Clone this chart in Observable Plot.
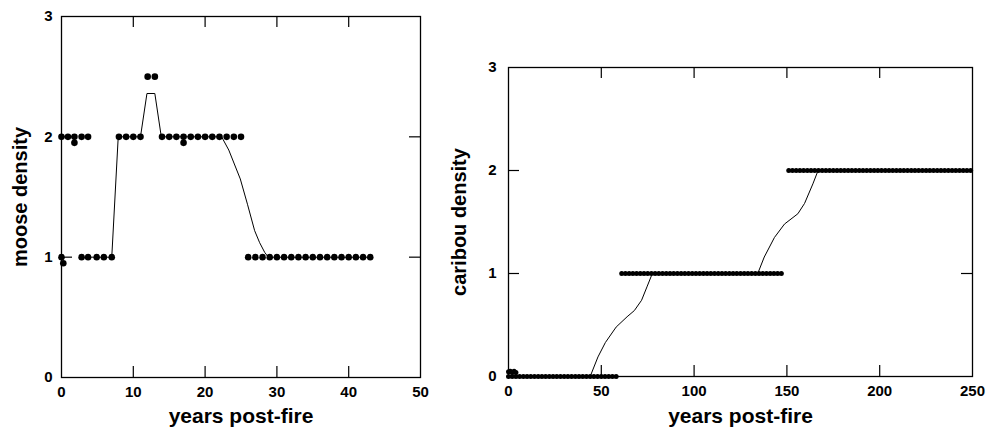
<!DOCTYPE html>
<html>
<head>
<meta charset="utf-8">
<script src="https://cdn.jsdelivr.net/npm/d3@7"></script>
<script src="https://cdn.jsdelivr.net/npm/@observablehq/plot@0.6"></script>
<style>
  html, body { margin: 0; padding: 0; background: #fff; }
  #wrap { position: relative; width: 988px; height: 430px; overflow: hidden; background: #fff; }
  #left { position: absolute; left: 0; top: 0; }
  #right { position: absolute; left: 440px; top: 0; }
  svg { overflow: visible; }
</style>
</head>
<body>
<div id="wrap"><div id="left"></div><div id="right"></div></div>
<script>
// ---------- Moose panel data ----------
const mooseYears   = [0, 0.9, 1.8, 1.8, 2.8, 3.7,  0, 0.25,  2.8, 3.7, 4.9, 5.9, 7,  8, 9, 10, 11,  12, 13,
                      14, 15, 16, 17, 17, 18, 19, 20, 21, 22, 23, 24, 25,
                      26, 27, 28, 29, 30, 31, 32, 33, 34, 35, 36, 37, 38, 39, 40, 41, 42, 43];
const mooseDensity = [2, 2, 2, 1.95, 2, 2,  1, 0.95,  1, 1, 1, 1, 1,  2, 2, 2, 2,  2.5, 2.5,
                      2, 2, 2, 2, 1.95, 2, 2, 2, 2, 2, 2, 2, 2,
                      1, 1, 1, 1, 1, 1, 1, 1, 1, 1, 1, 1, 1, 1, 1, 1, 1, 1];
const mooseTrendYears   = [2.8, 7, 7.9, 11, 11.9, 13, 13.9, 22.3, 23.3, 24.9, 25.9, 26.9, 27.6, 28.3, 28.8, 43];
const mooseTrendDensity = [1,   1, 2,   2,  2.36, 2.36, 2,  2,    1.89, 1.65, 1.44, 1.22, 1.12, 1.04, 1,   1];

// ---------- Caribou panel data ----------
const caribouLevels = [0, 1, 2];
const caribouYearsAt0 = [0, 2, 4, 6, 8, 10, 12, 14, 16, 18, 20, 22, 24, 26, 28, 30, 32, 34, 36, 38,
                         40, 42, 44, 46, 48, 50, 52, 54, 56, 58];
const caribouYearsAt1 = [61, 63, 65, 67, 69, 71, 73, 75, 77, 79, 81, 83, 85, 87, 89, 91, 93, 95, 97, 99,
                         101, 103, 105, 107, 109, 111, 113, 115, 117, 119, 121, 123, 125, 127, 129, 131,
                         133, 135, 137, 139, 141, 143, 145, 147];
const caribouYearsAt2 = [151, 153, 155, 157, 159, 161, 163, 165, 167, 169, 171, 173, 175, 177, 179, 181,
                         183, 185, 187, 189, 191, 193, 195, 197, 199, 201, 203, 205, 207, 209, 211, 213,
                         215, 217, 219, 221, 223, 225, 227, 229, 231, 233, 235, 237, 239, 241, 243, 245,
                         247, 249];
const caribouEarlyYears   = [0, 1, 2, 3, 4];
const caribouEarlyDensity = [0.045, 0.05, 0.04, 0.05, 0.04];
const caribouTrendYears   = [0, 44, 48.2, 52.2, 58, 63.9, 67.8, 71.7, 74.6, 77.5, 134.3, 137.8, 143.3, 148.7, 155.9, 159.5, 164, 166.8, 250];
const caribouTrendDensity = [0, 0,  0.19, 0.33, 0.48, 0.58, 0.64, 0.74, 0.87, 1.0, 1.0,  1.16,  1.35,  1.48,  1.58,  1.68,  1.87, 2.0,  2.0];

// ---------- Axes ----------
const mooseXTicks = [0, 10, 20, 30, 40, 50];
const mooseXInnerTicks = [10, 20, 30, 40];
const caribouXTicks = [0, 50, 100, 150, 200, 250];
const caribouXInnerTicks = [50, 100, 150, 200];
const yTicks = [0, 1, 2, 3];
const yInnerTicks = [1, 2];
const xLabel = "years post-fire";
const mooseYLabel = "moose density";
const caribouYLabel = "caribou density";

// ---------- build tables ----------
const mooseDots = mooseYears.map((x, i) => ({x, y: mooseDensity[i]}));
const mooseTrend = mooseTrendYears.map((x, i) => ({x, y: mooseTrendDensity[i]}));
const caribouDots = [
  ...[caribouYearsAt0, caribouYearsAt1, caribouYearsAt2].flatMap((ys, k) => ys.map(x => ({x, y: caribouLevels[k]}))),
  ...caribouEarlyYears.map((x, i) => ({x, y: caribouEarlyDensity[i]}))
];
const caribouTrend = caribouTrendYears.map((x, i) => ({x, y: caribouTrendDensity[i]}));

const FONT = "'Liberation Sans', Arial, Helvetica, sans-serif";

function panel({width, height, margin, xDomain, xTicks, xInner, dots, dotR, trend, yLabel, yLabelDx, yPad, xLabelDy}) {
  const innerW = width - margin.left - margin.right;
  const innerH = height - margin.top - margin.bottom;
  const T = 11;
  return Plot.plot({
    width, height,
    marginTop: margin.top, marginRight: margin.right, marginBottom: margin.bottom, marginLeft: margin.left,
    style: {fontFamily: FONT, fontSize: "15px", fontWeight: "bold", color: "#000", background: "#fff", overflow: "visible"},
    x: {domain: xDomain},
    y: {domain: [0, 3]},
    marks: [
      Plot.frame({stroke: "#000", strokeWidth: 1.3}),
      Plot.axisX({ticks: xTicks, tickSize: 0, tickPadding: 9, tickFormat: d => String(d), label: null, fontSize: 15, fontWeight: "bold", fill: "#000"}),
      Plot.axisY({ticks: yTicks, tickSize: 0, tickPadding: yPad, tickFormat: d => String(d), label: null, fontSize: 15, fontWeight: "bold", fill: "#000"}),
      // inward ticks
      Plot.tickX(xInner, {x: d => d, insetTop: innerH - T, stroke: "#000", strokeWidth: 1.2}),
      Plot.tickX(xInner, {x: d => d, insetBottom: innerH - T, stroke: "#000", strokeWidth: 1.2}),
      Plot.tickY(yInnerTicks, {y: d => d, insetRight: innerW - T, stroke: "#000", strokeWidth: 1.2}),
      Plot.tickY(yInnerTicks, {y: d => d, insetLeft: innerW - T, stroke: "#000", strokeWidth: 1.2}),
      Plot.line(trend, {x: "x", y: "y", stroke: "#000", strokeWidth: 1}),
      Plot.dot(dots, {x: "x", y: "y", r: dotR, fill: "#000", stroke: "none"}),
      Plot.text([xLabel], {frameAnchor: "bottom", dy: xLabelDy, textAnchor: "middle", lineAnchor: "middle", fontSize: 21, fontWeight: "bold", fill: "#000"}),
      Plot.text([yLabel], {frameAnchor: "left", dx: yLabelDx, rotate: -90, textAnchor: "middle", lineAnchor: "middle", fontSize: 20, fontWeight: "bold", fill: "#000"})
    ]
  });
}

document.getElementById("left").appendChild(panel({
  width: 440, height: 430,
  margin: {top: 16, right: 20, bottom: 53, left: 61},
  xDomain: [0, 50], xTicks: mooseXTicks, xInner: mooseXInnerTicks,
  dots: mooseDots, dotR: 3.3, trend: mooseTrend,
  yLabel: mooseYLabel, yLabelDx: -41, yPad: 9, xLabelDy: 38.5
}));

document.getElementById("right").appendChild(panel({
  width: 548, height: 430,
  margin: {top: 67, right: 16, bottom: 54, left: 68},
  xDomain: [0, 250], xTicks: caribouXTicks, xInner: caribouXInnerTicks,
  dots: caribouDots, dotR: 2.5, trend: caribouTrend,
  yLabel: caribouYLabel, yLabelDx: -49, yPad: 12, xLabelDy: 39.5
}));
</script>
</body>
</html>
